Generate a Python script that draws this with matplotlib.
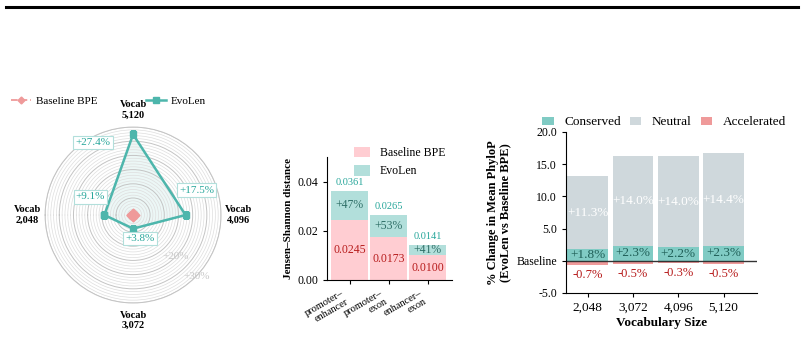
import numpy as np
import matplotlib
matplotlib.use("Agg")
import matplotlib.pyplot as plt
from matplotlib.lines import Line2D

plt.rcParams["font.family"] = ["Liberation Serif", "DejaVu Serif"]

# radar data (% gain of EvoLen over baseline)
radar_labels = ["Vocab\n2,048", "Vocab\n3,072", "Vocab\n4,096", "Vocab\n5,120"]
radar_evolen = [9.1, 3.8, 17.5, 27.4]
radar_baseline = [0.0, 0.0, 0.0, 0.0]
radar_rings = [5, 10, 15, 20, 25, 30]

# jensen-shannon distance between region pairs
js_pairs = ["promoter–\nenhancer", "promoter–\nexon", "enhancer–\nexon"]
js_baseline = [0.0245, 0.0173, 0.0100]
js_evolen = [0.0361, 0.0265, 0.0141]
js_gain = ["+47%", "+53%", "+41%"]

# phylop change per vocabulary size
vocab_sizes = ["2,048", "3,072", "4,096", "5,120"]
conserved = [1.8, 2.3, 2.2, 2.3]
neutral = [11.3, 14.0, 14.0, 14.4]
accelerated = [-0.7, -0.5, -0.3, -0.5]

TEAL = "#4DB6AC"
TEAL_TXT = "#26A69A"
PINK = "#EF9A9A"

fig = plt.figure(figsize=(8.04, 3.43), dpi=100)

# thick rule on top of the figure
fig.add_artist(Line2D([0.007, 0.992], [0.979, 0.979], color="black", lw=2.2))

# ---------------- radar ----------------
ax1 = fig.add_axes([0.056, 0.1166, 0.219, 0.513], polar=True)
ax1.set_theta_offset(np.pi)
ax1.set_theta_direction(1)
angles = np.arange(len(radar_labels)) * 2 * np.pi / len(radar_labels)
closed = np.append(angles, angles[0])

ev = np.append(radar_evolen, radar_evolen[0])
bl = np.append(radar_baseline, radar_baseline[0])
ax1.plot(closed, bl, color=PINK, lw=1.3, ls="--", marker="D", ms=3.5, label="Baseline BPE")
ax1.plot(closed, ev, color=TEAL, lw=1.8, marker="s", ms=4, label="EvoLen")
ax1.fill(closed, ev, color=TEAL, alpha=0.1)

ax1.set_ylim(-1, 30)
ax1.set_yticks(radar_rings)
ax1.set_yticklabels([])
ax1.set_yticks(np.arange(1, 30, 1), minor=True)
ax1.yaxis.grid(True, which="major", color="#C4C4C4", lw=0.7)
ax1.yaxis.grid(True, which="minor", color="#DEDEDE", lw=0.5)
ax1.tick_params(axis="y", which="both", length=0)
ax1.set_xticks(angles)
ax1.set_xticklabels(radar_labels, fontsize=7.5, fontweight="bold")
ax1.tick_params(axis="x", pad=2)
ax1.xaxis.grid(False)
ax1.spines["polar"].set_color("#C4C4C4")
ax1.spines["polar"].set_linewidth(0.7)

# ring labels for +20% and +30%, down-right of the centre
for r in radar_rings[3::2]:
    ax1.text(np.deg2rad(136), r, f"+{r}%", ha="center", va="center",
             fontsize=8, color="#C8C8C8")

# value boxes next to each point (offsets in points)
offsets = [(-10, 13), (5, -7), (8, 18), (-29, -6)]
for a, v, off in zip(angles, radar_evolen, offsets):
    ax1.annotate(f"+{v}%", (a, v), xytext=off, textcoords="offset points",
                 ha="center", va="center", fontsize=8, color=TEAL_TXT,
                 bbox=dict(boxstyle="square,pad=0.2", fc="white", ec="#B2DFDB", lw=0.8))

ax1.legend(loc="center", bbox_to_anchor=(0.36, 1.15), ncol=2, frameon=False,
           fontsize=8, handlelength=1.8, columnspacing=4.3, handletextpad=0.5)

# ---------------- jensen-shannon bars ----------------
ax2 = fig.add_axes([0.4067, 0.1837, 0.1555, 0.3586])
x2 = np.arange(len(js_pairs))
extra = np.array(js_evolen) - np.array(js_baseline)
ax2.bar(x2, js_baseline, width=0.95, color="#FFCDD2", label="Baseline BPE")
ax2.bar(x2, extra, bottom=js_baseline, width=0.95, color="#B2DFDB", label="EvoLen")
for i in range(len(js_pairs)):
    ax2.text(x2[i], js_baseline[i] / 2, f"{js_baseline[i]:.4f}", ha="center", va="center",
             fontsize=8.5, color="#B71C1C")
    ax2.text(x2[i], js_baseline[i] + extra[i] / 2, js_gain[i], ha="center", va="center",
             fontsize=8.5, color="#2E6E66")
    ax2.annotate(f"{js_evolen[i]:.4f}", (x2[i], js_evolen[i]), xytext=(0, 3),
                 textcoords="offset points", ha="center", va="bottom",
                 fontsize=7.5, color=TEAL_TXT)
ax2.set_xlim(-0.58, 2.62)
ax2.set_ylim(0, 0.05)
ax2.set_yticks([0, 0.02, 0.04])
ax2.set_yticklabels(["0.00", "0.02", "0.04"])
ax2.set_xticks(x2)
ax2.set_xticklabels(js_pairs, rotation=30, ha="right", fontsize=7.5, linespacing=1.0)
ax2.tick_params(axis="y", labelsize=8.5, length=3)
ax2.tick_params(axis="x", length=3)
ax2.set_ylabel("Jensen–Shannon distance", fontsize=8, fontweight="bold", labelpad=3)
for s in ["top", "right"]:
    ax2.spines[s].set_visible(False)
ax2.legend(loc="upper right", bbox_to_anchor=(1.03, 1.17), frameon=False, fontsize=8.5,
           handlelength=1.4, handleheight=1.0, handletextpad=0.8)

# ---------------- phylop bars ----------------
ax3 = fig.add_axes([0.704, 0.1458, 0.2376, 0.4694])
x3 = np.arange(len(vocab_sizes))
ax3.bar(x3, conserved, width=0.9, color="#80CBC4", label="Conserved")
ax3.bar(x3, neutral, bottom=conserved, width=0.9, color="#CFD8DC", label="Neutral")
ax3.bar(x3, accelerated, width=0.9, color=PINK, label="Accelerated")
for i in range(len(vocab_sizes)):
    ax3.text(x3[i], conserved[i] / 2, f"+{conserved[i]}%", ha="center", va="center",
             fontsize=9.5, color="#1F5F57")
    ax3.text(x3[i], conserved[i] + neutral[i] / 2, f"+{neutral[i]}%", ha="center",
             va="center", fontsize=9.5, color="white")
    ax3.text(x3[i], accelerated[i] - 0.6, f"{accelerated[i]}%", ha="center", va="top",
             fontsize=9, color="#B71C1C")
ax3.axhline(0, color="#333333", lw=1)
ax3.set_xlim(-0.48, 3.74)
ax3.set_ylim(-5, 20)
ax3.set_yticks([-5, 0, 5, 10, 15, 20])
ax3.set_yticklabels(["-5.0", "Baseline", "5.0", "10.0", "15.0", "20.0"])
ax3.set_xticks(x3)
ax3.set_xticklabels(vocab_sizes)
ax3.tick_params(axis="y", labelsize=8.5, length=3)
ax3.tick_params(axis="x", labelsize=9.5, length=3)
ax3.set_xlabel("Vocabulary Size", fontsize=9.5, fontweight="bold", labelpad=2)
ax3.set_ylabel("% Change in Mean PhyloP\n(EvoLen vs Baseline BPE)", fontsize=9,
               fontweight="bold", linespacing=1.0, labelpad=4)
for s in ["top", "right"]:
    ax3.spines[s].set_visible(False)
ax3.legend(loc="center", bbox_to_anchor=(0.513, 1.06), ncol=3, frameon=False, fontsize=9.5,
           handlelength=0.85, handleheight=0.55, columnspacing=0.7, handletextpad=0.8)

fig.savefig("out.png", dpi=100)
